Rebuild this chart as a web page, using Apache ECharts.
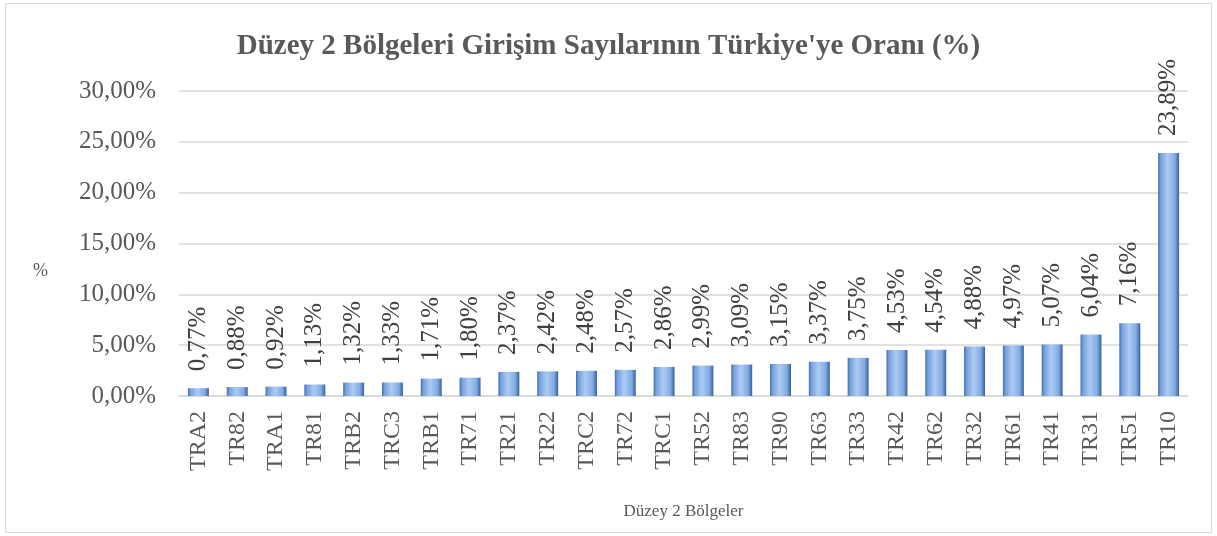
<!DOCTYPE html>
<html><head><meta charset="utf-8">
<script src="https://cdn.jsdelivr.net/npm/echarts@6/dist/echarts.min.js"></script>
<style>html,body{margin:0;padding:0;background:#fff}#c{width:1217px;height:536px}</style>
</head><body><div id="c"></div>
<script>
const categories = ['TRA2','TR82','TRA1','TR81','TRB2','TRC3','TRB1','TR71','TR21','TR22','TRC2','TR72','TRC1','TR52','TR83','TR90','TR63','TR33','TR42','TR62','TR32','TR61','TR41','TR31','TR51','TR10'];
const values = [0.77,0.88,0.92,1.13,1.32,1.33,1.71,1.80,2.37,2.42,2.48,2.57,2.86,2.99,3.09,3.15,3.37,3.75,4.53,4.54,4.88,4.97,5.07,6.04,7.16,23.89];
const titleText = "Düzey 2 Bölgeleri Girişim Sayılarının Türkiye'ye Oranı (%)";
const xName = 'Düzey 2 Bölgeler';
const yName = '%';
const fmt = v => v.toFixed(2).replace('.', ',') + '%';
const serif = 'Liberation Serif';
const chart = echarts.init(document.getElementById('c'));
chart.setOption({
  animation: false,
  backgroundColor: '#fff',
  graphic: [
    {type:'rect', shape:{x:5.5,y:3.5,width:1206,height:529}, style:{fill:'none', stroke:'#d9d9d9', lineWidth:1}},
    {type:'text', left:33, top:262, style:{text: yName, font: '18px "Liberation Serif"', fill:'#595959'}}
  ],
  title: {text: titleText, left: 'center', top: 27, textStyle:{fontFamily: serif, fontWeight:'bold', fontSize:29, color:'#595959'}},
  grid: {left: 179, right: 29, top: 91, bottom: 140},
  xAxis: {
    type:'category', data: categories,
    name: xName, nameLocation:'middle', nameGap: 107,
    nameTextStyle:{fontFamily: serif, fontSize:17, color:'#595959'},
    axisLine:{lineStyle:{color:'#d9d9d9', width:1.5}}, axisTick:{show:false},
    axisLabel:{rotate:90, interval:0, margin:15, fontFamily: serif, fontSize:24, color:'#595959'}
  },
  yAxis: {
    type:'value', min:0, max:30, interval:5,
    axisLine:{show:false}, axisTick:{show:false},
    splitLine:{lineStyle:{color:'#d9d9d9', width:1.5}},
    axisLabel:{formatter: fmt, margin:23, fontFamily: serif, fontSize:25, color:'#595959'}
  },
  series: [{
    type:'bar', data: values, barCategoryGap:'46%',
    itemStyle:{
      color: new echarts.graphic.LinearGradient(0,0,1,0,[
        {offset:0, color:'#3f6db0'},
        {offset:0.12, color:'#75a0dc'},
        {offset:0.45, color:'#abcbf3'},
        {offset:0.8, color:'#82abe3'},
        {offset:1, color:'#35609f'}
      ])
    },
    label:{show:true, position:'top', distance:17, rotate:90, align:'left', verticalAlign:'middle',
      formatter: p => fmt(p.value), fontFamily: serif, fontSize:25, color:'#404040'}
  }]
});
</script></body></html>
